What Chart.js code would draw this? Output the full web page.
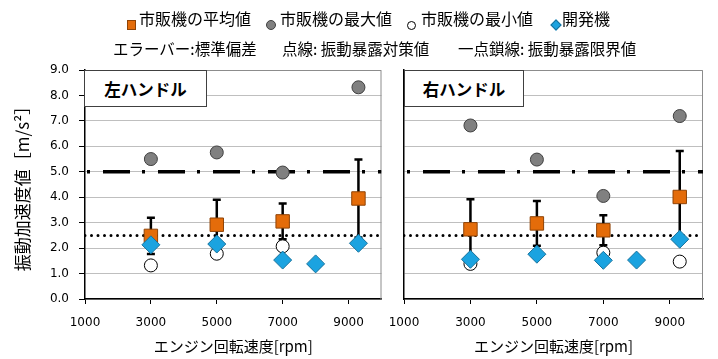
<!DOCTYPE html>
<html><head><meta charset="utf-8">
<script src="https://cdn.jsdelivr.net/npm/chart.js@4/dist/chart.umd.min.js"></script>
<style>
body{margin:0;background:#fff;}
#wrap{position:relative;width:718px;height:359px;overflow:hidden;background:#fff;font-family:"Noto Sans CJK JP",sans-serif;color:#000;}
canvas{position:absolute;top:0;}
#c1{left:0;} #c2{left:360px;}
.t{position:absolute;white-space:nowrap;line-height:1;}
.lg{font-size:16px;top:10px;}
.row2{font-size:15.5px;top:41px;}
.mk{position:absolute;box-sizing:border-box;}
.panel{position:absolute;top:70px;height:37px;background:#fff;border:1px solid #404040;font-size:16.5px;font-weight:bold;display:flex;align-items:center;justify-content:center;box-sizing:border-box;}
</style></head>
<body>
<div id="wrap">
  <canvas id="c1" width="392" height="359"></canvas>
  <canvas id="c2" width="358" height="359"></canvas>

  <div class="mk" style="left:127px;top:20px;width:9px;height:10px;background:#E46C0A;border:1px solid #8f4306;"></div>
  <span class="t lg" style="left:139px;">市販機の平均値</span>
  <div class="mk" style="left:266px;top:20px;width:10px;height:10px;border-radius:50%;background:#808080;border:1px solid #404040;"></div>
  <span class="t lg" style="left:280px;">市販機の最大値</span>
  <div class="mk" style="left:407px;top:21px;width:9px;height:9px;border-radius:50%;background:#fff;border:1px solid #000;"></div>
  <span class="t lg" style="left:421px;">市販機の最小値</span>
  <div class="mk" style="left:552px;top:21px;width:8px;height:8px;transform:rotate(45deg);background:#1BA3E0;border:1px solid #17729c;"></div>
  <span class="t lg" style="left:562px;">開発機</span>

  <span class="t row2" style="left:113px;">エラーバー:標準偏差</span>
  <span class="t row2" style="left:282px;">点線: 振動暴露対策値</span>
  <span class="t row2" style="left:458px;">一点鎖線: 振動暴露限界値</span>

  <div class="panel" style="left:84px;width:123px;">左ハンドル</div>
  <div class="panel" style="left:404px;width:120px;">右ハンドル</div>
</div>
<script>
// ---- data ----
const xTicks = [1000, 3000, 5000, 7000, 9000];
const xMin = 1000, xMax = 10000;
const rpm = [3000, 5000, 7000, 9300];
const devRpm = [3000, 5000, 7000, 8000, 9300];

const leftMean = [2.48, 2.92, 3.05, 3.95];
const leftSD   = [0.71, 0.98, 0.70, 1.53];
const leftMax  = [5.50, 5.76, 4.97, 8.32];
const leftMin  = [1.32, 1.78, 2.07, null];
const leftDev  = [2.13, 2.16, 1.53, 1.38, 2.19];

const rightMean = [2.74, 2.97, 2.70, 4.01];
const rightSD   = [1.18, 0.88, 0.59, 1.81];
const rightMax  = [6.82, 5.48, 4.05, 7.19];
const rightMin  = [1.38, null, 1.82, 1.47];
const rightDev  = [1.56, 1.76, 1.52, 1.53, 2.35];

const limitValue = 5.0;   // 振動暴露限界値
const actionValue = 2.5;  // 振動暴露対策値

// ---- helpers ----
function pts(xs, ys){ return xs.map((x,i)=>({x:x, y:ys[i]})); }

function extrasPlugin(mean, sd){
  return {
    id:'extras',
    beforeDatasetsDraw(chart){
      const {ctx, chartArea:a, scales:{x, y}} = chart;
      ctx.save();
      ctx.strokeStyle = '#8c8c8c'; ctx.lineWidth = 1;
      ctx.beginPath();
      ctx.moveTo(a.left, a.top + 0.5); ctx.lineTo(a.right - 0.5, a.top + 0.5); ctx.lineTo(a.right - 0.5, a.bottom);
      ctx.stroke();
      ctx.strokeStyle = '#000'; ctx.lineWidth = 2.5;
      rpm.forEach((r, i) => {
        const px = x.getPixelForValue(r);
        const top = y.getPixelForValue(mean[i] + sd[i]);
        const bot = y.getPixelForValue(mean[i] - sd[i]);
        ctx.beginPath();
        ctx.moveTo(px, top); ctx.lineTo(px, bot);
        ctx.moveTo(px - 4, top); ctx.lineTo(px + 4, top);
        ctx.moveTo(px - 4, bot); ctx.lineTo(px + 4, bot);
        ctx.stroke();
      });
      ctx.restore();
    }
  };
}

function makeDatasets(mean, max, min, dev, dashOffset){
  return [
    {label:'開発機', data:pts(devRpm, dev), pointStyle:'rectRot', pointRadius:9, backgroundColor:'#1BA3E0', borderColor:'#17729c', borderWidth:1},
    {label:'市販機の平均値', data:pts(rpm, mean), pointStyle:'rect', pointRadius:9.5, backgroundColor:'#E46C0A', borderColor:'#8f4306', borderWidth:1},
    {label:'市販機の最小値', data:pts(rpm, min), pointStyle:'circle', pointRadius:6.5, backgroundColor:'#ffffff', borderColor:'#000', borderWidth:1},
    {label:'市販機の最大値', data:pts(rpm, max), pointStyle:'circle', pointRadius:6.5, backgroundColor:'#808080', borderColor:'#404040', borderWidth:1},
    {type:'line', label:'限界値', data:[{x:xMin, y:limitValue},{x:xMax, y:limitValue}], borderColor:'#000', borderWidth:3.5, borderDash:[27,12,3,13], borderDashOffset:dashOffset, pointRadius:0, fill:false},
    {type:'line', label:'対策値', data:[{x:xMin, y:actionValue},{x:xMax, y:actionValue}], borderColor:'#000', borderWidth:3, borderDash:[0,6.5], borderCapStyle:'round', pointRadius:0, fill:false}
  ];
}

function makeChart(id, mean, sd, max, min, dev, isLeft){
  const yAxis = {
    type:'linear', min:0, max:9,
    ticks:{stepSize:1, display:isLeft, callback:v=>v.toFixed(1), font:{family:'DejaVu Sans', size:12}, color:'#000', padding:10},
    grid:{color:'#bfbfbf', lineWidth:1, drawTicks:isLeft, tickLength:6, tickColor:'#000'},
    border:{color:'#000', width:1.5},
    afterFit:s=>{ s.width = isLeft ? 85 : 44; }
  };
  if (isLeft) {
    yAxis.title = {display:true, text:'振動加速度値［m/s²］', font:{family:'Noto Sans CJK JP', size:17}, color:'#000', padding:12};
  }
  return new Chart(document.getElementById(id), {
    type:'scatter',
    data:{datasets:makeDatasets(mean, max, min, dev, isLeft ? 37 : 36)},
    options:{
      responsive:false, animation:false, devicePixelRatio:1, events:[],
      layout:{padding:{top:70, right:isLeft ? 8 : 15, bottom:0, left:0}},
      plugins:{legend:{display:false}, tooltip:{enabled:false}},
      scales:{
        x:{
          type:'linear', min:xMin, max:xMax,
          afterBuildTicks:s=>{ s.ticks = xTicks.map(v=>({value:v})); },
          afterFit:s=>{ s.height = 60; },
          grid:{drawOnChartArea:false, drawTicks:true, tickLength:5, tickColor:'#000'},
          border:{color:'#000', width:1.5},
          ticks:{font:{family:'DejaVu Sans', size:12}, color:'#000', padding:12, maxRotation:0, autoSkip:false, callback:v=>String(v)},
          title:{display:true, text:'エンジン回転速度[rpm]', font:{family:'Noto Sans CJK JP', size:15}, color:'#000', padding:{top:2, bottom:4}}
        },
        y:yAxis
      }
    },
    plugins:[extrasPlugin(mean, sd)]
  });
}

makeChart('c1', leftMean, leftSD, leftMax, leftMin, leftDev, true);
makeChart('c2', rightMean, rightSD, rightMax, rightMin, rightDev, false);
</script>
</body></html>
